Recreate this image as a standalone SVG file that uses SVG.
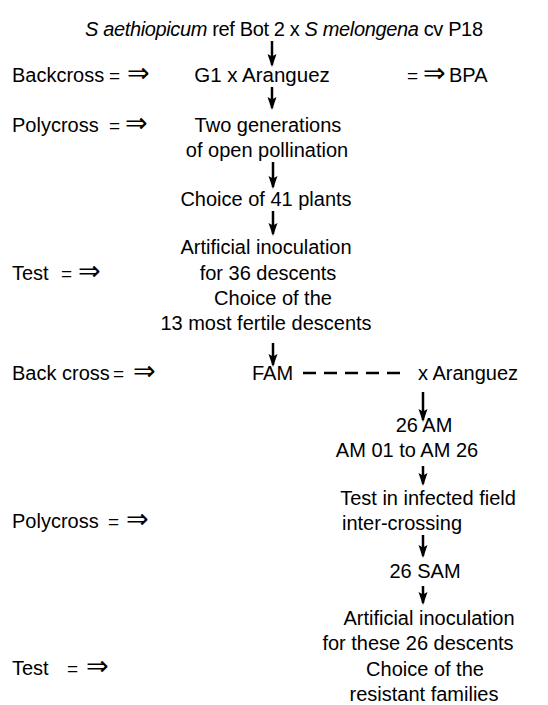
<svg xmlns="http://www.w3.org/2000/svg" width="548" height="705" viewBox="0 0 548 705">
<style>
text{font-family:"Liberation Sans",Arial,sans-serif;font-size:20px;fill:#000}
.c{text-anchor:middle}
.sym{font-family:"DejaVu Sans",sans-serif;font-size:27px}
.eq{font-size:19px}
.it{font-style:italic}
.arr{stroke:#000;stroke-width:2.5;fill:none;marker-end:url(#ah)}
.dash{stroke:#000;stroke-width:2.5;stroke-dasharray:13,8;fill:none}
</style>
<defs>
<marker id="ah" markerUnits="userSpaceOnUse" markerWidth="13" markerHeight="10" refX="11" refY="5" orient="auto" viewBox="0 0 13 10">
<path d="M0,0.5 L13,5 L0,9.5 L2.5,5 Z" fill="#000"/>
</marker>
</defs>
<rect width="548" height="705" fill="#fff"/>
<g id="connectors">
<path d="M272,41 V65" class="arr"/>
<path d="M272,87 V108" class="arr"/>
<path d="M273,162 V187" class="arr"/>
<path d="M273,211 V234" class="arr"/>
<path d="M273,343 V365" class="arr"/>
<path d="M423,392 V420" class="arr"/>
<path d="M423,466 V484" class="arr"/>
<path d="M423,535 V556" class="arr"/>
<path d="M423,586 V603" class="arr"/>
<path d="M303,373 H400" class="dash"/>
</g>
<g id="n-parents"><text x="85" y="36" textLength="398"><tspan class="it">S aethiopicum</tspan> ref Bot 2 x <tspan class="it">S melongena</tspan> cv P18</text></g>
<g id="n-backcross-label"><text x="12" y="82">Backcross</text><text x="109" y="82" class="eq">=</text><text x="127" y="82" class="sym">⇒</text></g>
<g id="n-g1"><text x="262" y="82" class="c" style="font-size:20.5px">G1 x Aranguez</text></g>
<g id="n-bpa"><text x="407" y="82" class="eq">=</text><text x="423" y="82" class="sym">⇒</text><text x="449" y="82">BPA</text></g>
<g id="n-polycross1-label"><text x="12" y="132">Polycross</text><text x="109" y="132" class="eq">=</text><text x="125" y="132" class="sym">⇒</text></g>
<g id="n-two-gen"><text x="268" y="132" class="c">Two generations</text><text x="267" y="157" class="c">of open pollination</text></g>
<g id="n-choice41"><text x="266" y="206" class="c">Choice of 41 plants</text></g>
<g id="n-test1-label"><text x="12" y="280">Test</text><text x="61" y="280" class="eq">=</text><text x="78" y="280" class="sym">⇒</text></g>
<g id="n-inoc1"><text x="266" y="254" class="c">Artificial inoculation</text><text x="268" y="280" class="c">for 36 descents</text><text x="273" y="305" class="c">Choice of the</text><text x="266" y="330" class="c">13 most fertile descents</text></g>
<g id="n-backcross2-label"><text x="12" y="380">Back cross</text><text x="113" y="380" class="eq">=</text><text x="133" y="380" class="sym">⇒</text></g>
<g id="n-fam"><text x="252" y="380">FAM</text></g>
<g id="n-aranguez"><text x="418" y="380">x Aranguez</text></g>
<g id="n-26am"><text x="424" y="432" class="c">26 AM</text><text x="407" y="457" class="c">AM 01 to AM 26</text></g>
<g id="n-polycross2-label"><text x="12" y="528">Polycross</text><text x="108" y="528" class="eq">=</text><text x="126" y="528" class="sym">⇒</text></g>
<g id="n-field"><text x="428" y="505" class="c">Test in infected field</text><text x="402" y="530" class="c">inter-crossing</text></g>
<g id="n-26sam"><text x="425" y="578" class="c">26 SAM</text></g>
<g id="n-test2-label"><text x="12" y="675">Test</text><text x="67" y="675" class="eq">=</text><text x="86" y="675" class="sym">⇒</text></g>
<g id="n-inoc2"><text x="429" y="625" class="c">Artificial inoculation</text><text x="418" y="650" class="c">for these 26 descents</text><text x="425" y="676" class="c">Choice of the</text><text x="424" y="701" class="c">resistant families</text></g>
</svg>
